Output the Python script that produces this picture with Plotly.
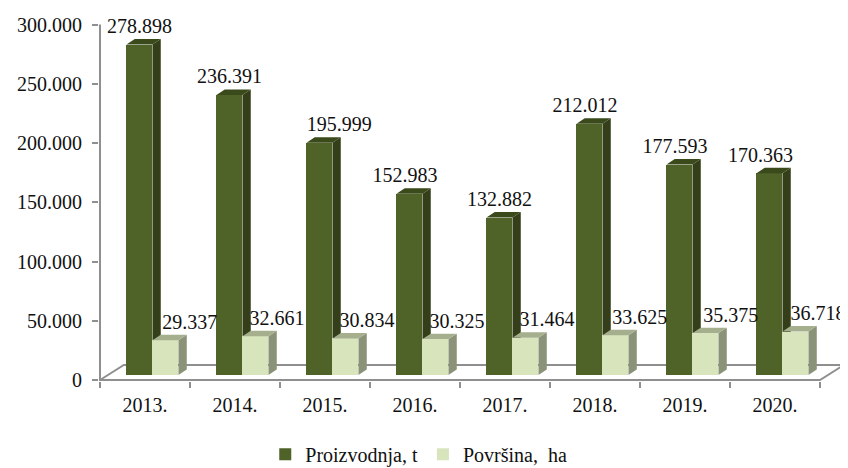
import plotly.graph_objects as go

# --- data ---
years = ["2013.", "2014.", "2015.", "2016.", "2017.", "2018.", "2019.", "2020."]
proizvodnja = [278898, 236391, 195999, 152983, 132882, 212012, 177593, 170363]
povrsina = [29337, 32661, 30834, 30325, 31464, 33625, 35375, 36718]
y_ticks = [0, 50000, 100000, 150000, 200000, 250000, 300000]
y_tick_text = ["0", "50.000", "100.000", "150.000", "200.000", "250.000", "300.000"]

# --- label nudges (category units), styling ---
green_label_dx = [0.0, 0.0, 0.22, -0.05, 0.0, -0.05, -0.05, -0.10]
light_label_dx = [0.27, 0.24, 0.24, 0.24, 0.24, 0.27, 0.28, 0.25]
FONT = "Liberation Serif"
G_FRONT, G_SIDE, G_TOP = "#4F6228", "#343F19", "#3B4A1B"
L_FRONT, L_SIDE, L_TOP = "#D7E4BC", "#8A9378", "#A5AF8D"
AXIS = "#8F8F8F"

BASE = 4200          # bars stand a little above the axis (front of the floor)
DX, DY = 0.092, 4600 # extrusion depth
W = 0.289
G_X0, L_X0 = 0.294, 0.294 + W
FLOOR_DX, FLOOR_DY = 0.265, 12700
N = len(years)


def faces(values, x0):
    side_x, side_y, top_x, top_y = [], [], [], []
    for i, v in enumerate(values):
        l = i + x0
        r = l + W
        t = v + BASE
        side_x += [r, r + DX, r + DX, r, r, None]
        side_y += [BASE, BASE + DY, t + DY, t, BASE, None]
        top_x += [l, l + DX, r + DX, r, l, None]
        top_y += [t, t + DY, t + DY, t, t, None]
    return side_x, side_y, top_x, top_y


fig = go.Figure()

# floor and axis lines
fig.add_trace(go.Scatter(
    x=[0, FLOOR_DX, N + FLOOR_DX, N, 0, 0],
    y=[0, FLOOR_DY, FLOOR_DY, 0, 0, y_ticks[-1]],
    mode="lines", line=dict(color=AXIS, width=2),
    showlegend=False, hoverinfo="skip", zorder=0,
))


def add_series(name, values, x0, front, side, top, z):
    xs = [i + x0 for i in range(len(values))]
    fig.add_trace(go.Bar(
        x=xs, y=values, base=BASE, width=W, offset=0, name=name,
        marker=dict(color=front, line=dict(width=0)), zorder=z,
    ))
    sx, sy, tx, ty = faces(values, x0)
    fig.add_trace(go.Scatter(x=sx, y=sy, mode="lines", fill="toself", fillcolor=side,
                             line=dict(width=0, color=side),
                             showlegend=False, hoverinfo="skip", zorder=z + 1))
    fig.add_trace(go.Scatter(x=tx, y=ty, mode="lines", fill="toself", fillcolor=top,
                             line=dict(width=0, color=top),
                             showlegend=False, hoverinfo="skip", zorder=z + 1))


add_series("Proizvodnja, t", proizvodnja, G_X0, G_FRONT, G_SIDE, G_TOP, 1)
add_series("Površina,  ha", povrsina, L_X0, L_FRONT, L_SIDE, L_TOP, 3)


def fmt(v):
    return f"{v:,}".replace(",", ".")


def add_labels(values, x0, dx):
    fig.add_trace(go.Scatter(
        x=[i + x0 + W / 2 + d for i, d in enumerate(dx)],
        y=[v + BASE + 14000 for v in values],
        text=[fmt(v) for v in values],
        mode="text", textposition="middle center",
        textfont=dict(family=FONT, size=20, color="#111111"),
        showlegend=False, hoverinfo="skip", zorder=6,
    ))


add_labels(proizvodnja, G_X0, green_label_dx)
add_labels(povrsina, L_X0, light_label_dx)

fig.update_layout(
    width=840, height=460, autosize=False,
    margin=dict(l=91, r=0, t=0, b=87, pad=0),
    paper_bgcolor="white", plot_bgcolor="white",
    barmode="overlay", bargap=0,
    font=dict(family=FONT, size=20, color="#111111"),
    legend=dict(orientation="h", xref="container", yref="container",
                x=0.489, xanchor="center", y=0.03, yanchor="middle",
                font=dict(family=FONT, size=20),
                itemwidth=30, bgcolor="rgba(0,0,0,0)"),
    xaxis=dict(
        range=[-0.0111, 8.311], showgrid=False, zeroline=False, showline=False,
        tickmode="array", tickvals=[i + 0.5 for i in range(N)], ticktext=years,
        ticks="", ticklen=0, ticklabelstandoff=10,
        tickfont=dict(family=FONT, size=20, color="#111111"),
        minor=dict(tickmode="array", tickvals=list(range(N + 1)),
                   ticks="outside", ticklen=6, tickwidth=2, tickcolor=AXIS, showgrid=False),
    ),
    yaxis=dict(
        range=[-844, 300000 * 372 / 355.5], showgrid=False, zeroline=False, showline=False,
        tickmode="array", tickvals=y_ticks, ticktext=y_tick_text,
        ticks="outside", ticklen=6, tickwidth=2, tickcolor=AXIS, ticklabelstandoff=6,
        tickfont=dict(family=FONT, size=20, color="#111111"),
    ),
)

fig.write_html("out.html", config=dict(displayModeBar=False))
